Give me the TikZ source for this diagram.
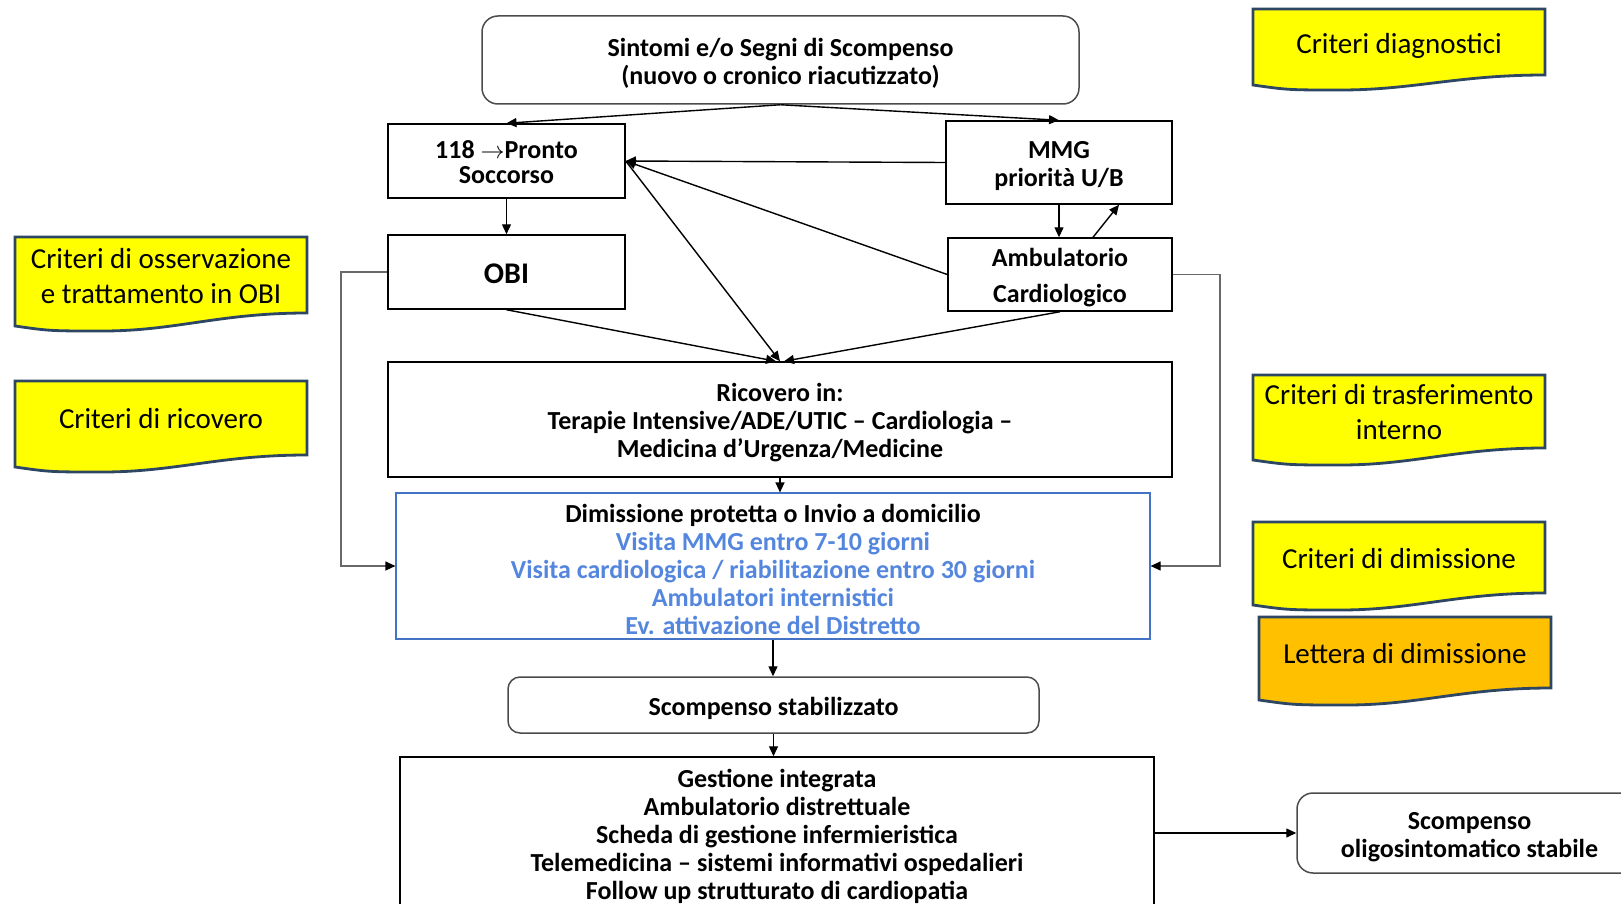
\documentclass[tikz,border=0pt]{standalone}
\usepackage{fontspec}
\setmainfont{Carlito}
\usetikzlibrary{arrows.meta,calc}

\definecolor{notefill}{RGB}{255,255,0}
\definecolor{noteorange}{RGB}{255,192,0}
\definecolor{noteline}{RGB}{45,70,100}
\definecolor{dimblue}{RGB}{68,114,196}
\definecolor{dimtext}{RGB}{84,134,222}
\definecolor{sideline}{RGB}{105,105,105}

\tikzset{
	flowbox/.style={draw, line width=0.75pt, inner sep=0pt, align=center, font=\bfseries\fontsize{13}{14}\selectfont},
	roundbox/.style={flowbox, draw=black!70, rounded corners=6pt},
	textrows/.style={text height={14pt*(#1-1)+12.5pt}},
	notedraw/.style={draw=noteline, line width=1.4pt},
	notetext/.style={inner sep=0pt, align=center, font=\fontsize{14.5}{17.5}\selectfont},
	link/.style={line width=0.7pt, -{Triangle[length=5pt,width=4.5pt]}},
	sidelink/.style={draw=sideline, line width=0.6pt, -{Triangle[length=5pt,width=4.5pt,color=black]}}
}

% document shape: name, left, top, right, right bottom, left bottom, fill, text
\newcommand{\notebox}[8]{%
	\filldraw[notedraw, fill=#7] (#2,#3) -- (#4,#3) -- (#4,#5)
		.. controls ({#4-0.3*(#4-#2)},{#5}) and ({#2+0.55*(#4-#2)},{#6+5}) .. ({#2+0.3*(#4-#2)},{#6+5})
		.. controls ({#2+0.12*(#4-#2)},{#6+5}) .. (#2,#6) -- cycle;
	\node[notetext] (#1) at ({(#2+#4)/2},{(#3+#5)/2+1}) {#8};
}

\begin{document}
\begin{tikzpicture}[x=0.5pt, y=-0.5pt]
	\clip (0,0) rectangle (1621,904);

	\node[roundbox, textrows=2, rounded corners=8pt, minimum width=298.5pt, minimum height=44pt] (sintomi) at (780.5,60) {Sintomi e/o Segni di Scompenso\\(nuovo o cronico riacutizzato)};
	\node[flowbox, text height=23pt, minimum width=118.5pt, minimum height=37pt] (pronto) at (506.5,161) {118 $\rightarrow$Pronto\\[-1.5pt]Soccorso};
	\node[flowbox, textrows=2, minimum width=113pt, minimum height=41.5pt] (mmg) at (1059,162.5) {MMG\\priorità U/B};
	\node[flowbox, text height=12pt, minimum width=118.5pt, minimum height=37pt, font=\bfseries\fontsize{15}{16}\selectfont] (obi) at (506.5,272) {OBI};
	\node[flowbox, text height=30.5pt, minimum width=112pt, minimum height=36.5pt] (ambul) at (1060,274.5) {Ambulatorio\\[4pt]Cardiologico};
	\node[flowbox, textrows=3, minimum width=392pt, minimum height=57.5pt] (ricovero) at (780,419.5) {Ricovero in:\\Terapie Intensive/ADE/UTIC -- Cardiologia --\\Medicina d’Urgenza/Medicine};
	\node[flowbox, textrows=5, draw=dimblue, line width=0.6pt, minimum width=377pt, minimum height=73pt] (dimiss) at (773,566) {Dimissione protetta o Invio a domicilio\\
		\textcolor{dimtext}{Visita MMG entro 7-10 giorni}\\
		\textcolor{dimtext}{Visita cardiologica / riabilitazione entro 30 giorni}\\
		\textcolor{dimtext}{Ambulatori internistici}\\
		\textcolor{dimtext}{Ev. attivazione del Distretto}};
	\node[roundbox, textrows=1, minimum width=265.5pt, minimum height=28pt] (stab) at (773.5,705) {Scompenso stabilizzato};
	\node[flowbox, textrows=5, minimum width=377pt, minimum height=76pt] (gest) at (777,833) {Gestione integrata\\Ambulatorio distrettuale\\Scheda di gestione infermieristica\\Telemedicina -- sistemi informativi ospedalieri\\Follow up strutturato di cardiopatia};
	\node[roundbox, textrows=2, rounded corners=8pt, minimum width=172.5pt, minimum height=40pt] (oligo) at (1469.5,833) {Scompenso\\oligosintomatico stabile};

	\notebox{diagn}{1253}{9}{1545}{75}{85}{notefill}{\raisebox{0pt}[\height][0pt]{Criteri diagnostici}}
	\notebox{osserv}{15}{237}{307}{313}{326}{notefill}{Criteri di osservazione\\e trattamento in OBI}
	\notebox{ricov}{15}{381}{307}{455}{467}{notefill}{Criteri di ricovero}
	\notebox{trasf}{1253}{375}{1545}{448}{460}{notefill}{Criteri di trasferimento\\interno}
	\notebox{dimcrit}{1253}{522}{1545}{593}{605}{notefill}{Criteri di dimissione}
	\notebox{lettera}{1259}{617}{1551}{688}{700}{noteorange}{Lettera di dimissione}

	\draw[link] (sintomi.south) -- (pronto.north);
	\draw[link] (sintomi.south) -- (mmg.north);
	\draw[link] (mmg.west) -- (pronto.east);
	\draw[link] (ambul.west) -- (pronto.east);
	\draw[link] (pronto.east) -- (ricovero.north);
	\draw[link] (pronto.south) -- (obi.north);
	\draw[link] (mmg.south) -- (mmg.south |- ambul.north);
	\draw[link] ([xshift=16.5pt]ambul.north) -- ([xshift=30pt]mmg.south);
	\draw[link] (obi.south) -- ([xshift=-2pt]ricovero.north);
	\draw[link] (ambul.south) -- ([xshift=2pt]ricovero.north);
	\draw[link] (ricovero.south) -- (ricovero.south |- dimiss.north);

	\coordinate (sxA) at (341,566);
	\coordinate (dxA) at (1220,566);
	\draw[sidelink] (obi.west) -- (obi.west -| sxA) -- (sxA) -- (dimiss.west);
	\draw[sidelink] (ambul.east) -- (ambul.east -| dxA) -- (dxA) -- (dimiss.east);

	\draw[link] (dimiss.south) -- (dimiss.south |- stab.north);
	\draw[link] (stab.south) -- (stab.south |- gest.north);
	\draw[link] (gest.east) -- (oligo.west);
\end{tikzpicture}
\end{document}
